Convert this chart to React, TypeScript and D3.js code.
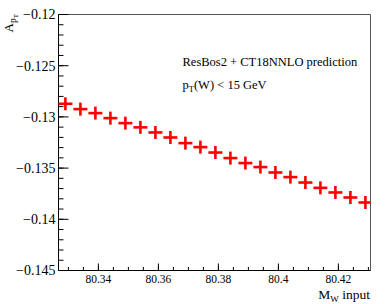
import * as d3 from "d3";

// M_W input (GeV) and predicted A_pT
const mwInput = [
  80.329, 80.334, 80.339, 80.344, 80.349, 80.354, 80.359, 80.364, 80.369, 80.374, 80.379,
  80.384, 80.389, 80.394, 80.399, 80.404, 80.409, 80.414, 80.419, 80.424, 80.429
];
const aptValues = [
  -0.12872, -0.12924, -0.12963, -0.13012, -0.13061, -0.13102, -0.13152, -0.13201, -0.13256,
  -0.13295, -0.13348, -0.13402, -0.13451, -0.1349, -0.13543, -0.13588, -0.13641, -0.13693,
  -0.13738, -0.13787, -0.13836
];

const xMajorTicks = [80.34, 80.36, 80.38, 80.4, 80.42];
const xTickLabels = ["80.34", "80.36", "80.38", "80.4", "80.42"];
const yMajorTicks = [-0.12, -0.125, -0.13, -0.135, -0.14, -0.145];
const yTickLabels = ["\u22120.12", "\u22120.125", "\u22120.13", "\u22120.135", "\u22120.14", "\u22120.145"];

export default function App() {
  const width = 390;
  const height = 304;
  const left = 58.5, right = 370.5, top = 14.5, bottom = 270.5;
  const font = "'Liberation Serif', 'Times New Roman', serif";

  const x = d3.scaleLinear([80.3267, 80.4307], [left, right]);
  const y = d3.scaleLinear([-0.145, -0.12], [bottom, top]);

  const xMinor = d3.range(80.325, 80.4325, 0.005).filter(v => x(v) > left + 1 && x(v) < right - 1);
  const yMinor = d3.range(-0.145, -0.1199, 0.001);

  const data = mwInput.map((m, i) => ({ m, a: aptValues[i] }));

  return (
    <svg width={width} height={height} style={{ position: "absolute", left: 0, top: 0, background: "#fff" }}>
      <rect width={width} height={height} fill="#fff" />
      {/* frame */}
      <line x1={left} x2={right} y1={top} y2={top} stroke="#555" />
      <line x1={right} x2={right} y1={top} y2={bottom} stroke="#555" />
      <line x1={left} x2={left} y1={top} y2={bottom} stroke="#000" />
      <line x1={left} x2={right} y1={bottom} y2={bottom} stroke="#000" />

      {/* y ticks */}
      {yMinor.map((v, i) => (
        <line key={"ym" + i} x1={left} x2={left + 5} y1={y(v)} y2={y(v)} stroke="#000" />
      ))}
      {yMajorTicks.map((v, i) => (
        <g key={"yM" + i}>
          <line x1={left} x2={left + 10} y1={y(v)} y2={y(v)} stroke="#000" />
          <text x={55.5} y={y(v) + 4.8} textAnchor="end" fontFamily={font} fontSize={14}>
            {yTickLabels[i]}
          </text>
        </g>
      ))}

      {/* x ticks */}
      {xMinor.map((v, i) => (
        <line key={"xm" + i} x1={x(v)} x2={x(v)} y1={bottom} y2={bottom - 3.5} stroke="#000" />
      ))}
      {xMajorTicks.map((v, i) => (
        <g key={"xM" + i}>
          <line x1={x(v)} x2={x(v)} y1={bottom} y2={bottom - 7} stroke="#000" />
          <text x={x(v)} y={283} textAnchor="middle" fontFamily={font} fontSize={11.5}>
            {xTickLabels[i]}
          </text>
        </g>
      ))}

      {/* axis titles */}
      <text x={370} y={299} textAnchor="end" fontFamily={font} fontSize={13.5}>
        M<tspan fontSize={9} dy={3}>W</tspan>
        <tspan dy={-3}> input</tspan>
      </text>
      <text transform="translate(12.5,14) rotate(-90)" textAnchor="end" fontFamily={font} fontSize={13}>
        A<tspan fontSize={9.5} dy={3}>p</tspan>
        <tspan fontSize={7} dy={2}>T</tspan>
      </text>

      {/* legend text */}
      <text x={182.5} y={66} fontFamily={font} fontSize={12.5}>
        ResBos2 + CT18NNLO prediction
      </text>
      <text x={182.5} y={89} fontFamily={font} fontSize={12.5}>
        p<tspan fontSize={8.5} dy={3}>T</tspan>
        <tspan dy={-3}>(W) &lt; 15 GeV</tspan>
      </text>

      {/* markers */}
      <g stroke="#ff0000" strokeWidth={2.6}>
        {data.map((d, i) => (
          <g key={i}>
            <line x1={x(d.m) - 7} x2={Math.min(x(d.m) + 7, right)} y1={y(d.a)} y2={y(d.a)} />
            <line x1={x(d.m)} x2={x(d.m)} y1={y(d.a) - 6.5} y2={y(d.a) + 6.5} />
          </g>
        ))}
      </g>
    </svg>
  );
}
